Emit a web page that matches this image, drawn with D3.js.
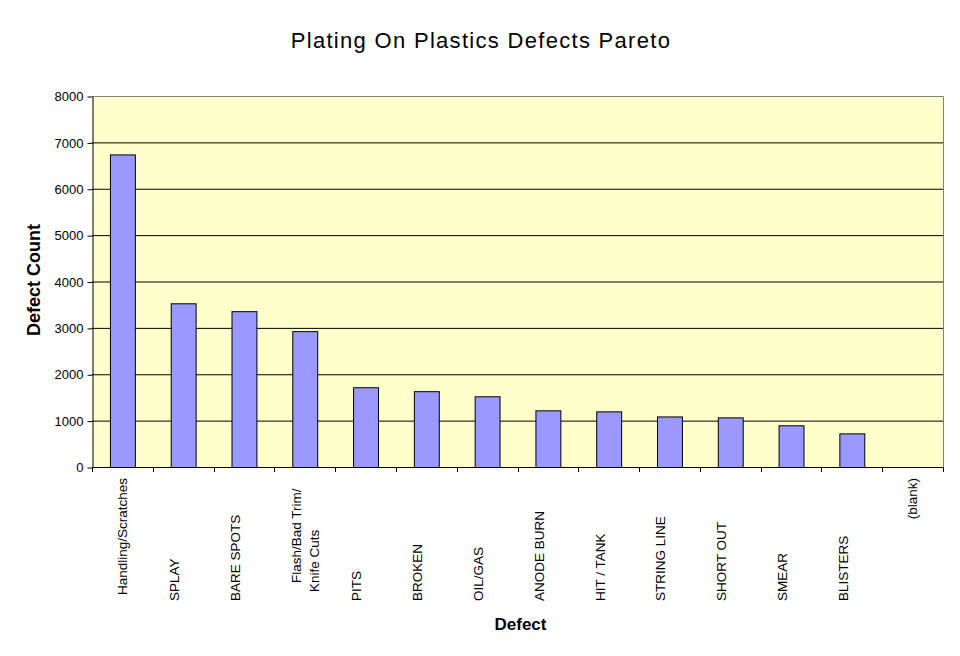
<!DOCTYPE html>
<html>
<head>
<meta charset="utf-8">
<script src="https://cdn.jsdelivr.net/npm/d3@7"></script>
<style>
	body { margin: 0; background: #fff; }
	svg text { font-family: "Liberation Sans", Arial, sans-serif; fill: #000; }
</style>
</head>
<body>
<div id="chart"></div>
<script>

const categories = [
	"Handling/Scratches", "SPLAY", "BARE SPOTS", "Flash/Bad Trim/\nKnife Cuts",
	"PITS", "BROKEN", "OIL/GAS", "ANODE BURN", "HIT / TANK",
	"STRING LINE", "SHORT OUT", "SMEAR", "BLISTERS", "(blank)"
];
const defectCounts = [6740, 3530, 3360, 2930, 1720, 1635, 1525, 1222, 1200, 1090, 1070, 900, 725, 0];
const yTicks = [0, 1000, 2000, 3000, 4000, 5000, 6000, 7000, 8000];

const width = 960,
	height = 656,
	plot = { left: 92, right: 943, top: 96, bottom: 467 };

const svg = d3.select("#chart")
		.append("svg")
		.attr("width", width)
		.attr("height", height);

const x = d3.scaleBand()
		.domain(categories)
		.range([plot.left, plot.right])
		.paddingInner(0.59)
		.paddingOuter(0.295);

const y = d3.scaleLinear()
		.domain([0, 8000])
		.range([plot.bottom, plot.top]);

// plot background
svg.append("rect")
		.attr("x", plot.left)
		.attr("y", plot.top)
		.attr("width", plot.right - plot.left)
		.attr("height", plot.bottom - plot.top)
		.attr("fill", "#ffffcc");

// grid
svg.append("g")
		.selectAll("line")
		.data(yTicks.filter(d => d > 0 && d < 8000))
		.join("line")
			.attr("x1", plot.left)
			.attr("x2", plot.right)
			.attr("y1", d => y(d) + 0.5)
			.attr("y2", d => y(d) + 0.5)
			.attr("stroke", "#000");

// top and right border
svg.append("path")
		.attr("d", `M${plot.left},${plot.top + 0.5}H${plot.right + 0.5}V${plot.bottom}`)
		.attr("fill", "none")
		.attr("stroke", "#808080");

// bars
svg.append("g")
		.selectAll("rect")
		.data(categories.map((c, i) => ({ cat: c, value: defectCounts[i] })).filter(d => d.value > 0))
		.join("rect")
			.attr("x", d => x(d.cat) + 0.5)
			.attr("y", d => y(d.value) + 0.5)
			.attr("width", x.bandwidth())
			.attr("height", d => y(0) - y(d.value))
			.attr("fill", "#9999ff")
			.attr("stroke", "#000")
			.attr("stroke-width", 1);

// y axis
const yAxis = svg.append("g")
		.attr("transform", `translate(${plot.left + 0.5},0.5)`)
		.call(d3.axisLeft(y)
			.tickValues(yTicks)
			.tickFormat(d3.format("d"))
			.tickSize(5)
			.tickPadding(4)
			.tickSizeOuter(0));

yAxis.select(".domain").attr("stroke", "#000");
yAxis.selectAll("line").attr("stroke", "#000");
yAxis.selectAll("text")
		.attr("font-size", "13px")
		.attr("font-family", "\"Liberation Sans\", Arial, sans-serif");

// x axis line and ticks at band edges
const xAxis = svg.append("g");

xAxis.append("line")
		.attr("x1", plot.left)
		.attr("x2", plot.right + 1)
		.attr("y1", plot.bottom + 0.5)
		.attr("y2", plot.bottom + 0.5)
		.attr("stroke", "#000");

xAxis.selectAll("line.tick")
		.data(d3.range(categories.length + 1))
		.join("line")
			.attr("class", "tick")
			.attr("x1", i => Math.round(plot.left + i * x.step()) + 0.5)
			.attr("x2", i => Math.round(plot.left + i * x.step()) + 0.5)
			.attr("y1", plot.bottom)
			.attr("y2", plot.bottom + 5)
			.attr("stroke", "#000");

// category labels (rotated)
const labelTop = 478,
	labelBottom = 601;

categories.forEach(function(cat, i){

	const cx = x(cat) + x.bandwidth() / 2,
		lines = cat.split("\n"),
		topAligned = (i === 0 || i === categories.length - 1);

	lines.forEach(function(line, j){

		let offset, ly, anchor;

		if( topAligned ){
			offset = 0;
			ly = labelTop;
			anchor = "end";
		}
		else if( lines.length > 1 ){
			offset = (j - 0.5) * 18;
			ly = j === 0 ? 583 : 592;
			anchor = "start";
		}
		else {
			offset = -9;
			ly = labelBottom;
			anchor = "start";
		}

		svg.append("text")
				.attr("transform", `translate(${cx + offset},${ly}) rotate(-90)`)
				.attr("y", "0.36em")
				.attr("text-anchor", anchor)
				.attr("font-size", "13.5px")
				.text(line);
	});
});

// titles
svg.append("text")
		.attr("x", 481)
		.attr("y", 48)
		.attr("text-anchor", "middle")
		.attr("font-size", "22px")
		.attr("letter-spacing", "1.3px")
		.text("Plating On Plastics Defects Pareto");

svg.append("text")
		.attr("x", (plot.left + plot.right) / 2 + 3)
		.attr("y", 630)
		.attr("text-anchor", "middle")
		.attr("font-size", "17px")
		.attr("font-weight", "bold")
		.text("Defect");

svg.append("text")
		.attr("transform", `translate(40,280) rotate(-90)`)
		.attr("text-anchor", "middle")
		.attr("font-size", "18px")
		.attr("font-weight", "bold")
		.text("Defect Count");

</script>
</body>
</html>
